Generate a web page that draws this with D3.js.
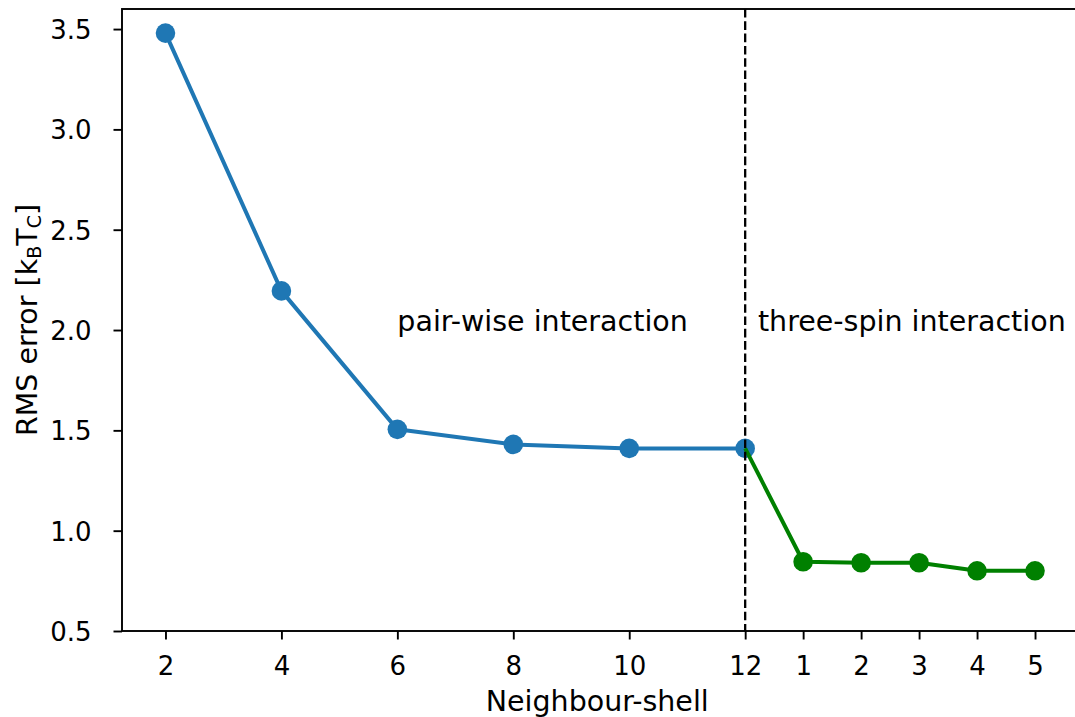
<!DOCTYPE html>
<html>
<head>
<meta charset="utf-8">
<script src="https://d3js.org/d3.v7.min.js"></script>
<style>
  body { margin: 0; background: #fff; }
  svg { display: block; font-family: "DejaVu Sans", sans-serif; }
</style>
</head>
<body>
<div id="chart"></div>
<script>
// pair-wise shells and RMS error
var pairShells = [2, 4, 6, 8, 10, 12];
var pairRms = [3.48, 2.195, 1.505, 1.43, 1.41, 1.41];
// three-spin shells (placed after shell 12 on the axis)
var spinShells = [1, 2, 3, 4, 5];
var spinRms = [0.845, 0.84, 0.84, 0.80, 0.80];
var yTicks = [0.5, 1.0, 1.5, 2.0, 2.5, 3.0, 3.5];

var width = 1075, height = 717;
var mLeft = 122, mTop = 9, mRight = 1078.5, mBottom = 631;

var svg = d3.select('#chart').append('svg')
    .attr('width', width)
    .attr('height', height);

var lastPair = pairShells[pairShells.length - 1];
var pairPts = pairShells.map((s, i) => ({x: s, y: pairRms[i]}));
var spinPts = spinShells.map((s, i) => ({x: lastPair + s, y: spinRms[i]}));

var x = d3.scaleLinear().domain([1.25, 17.75]).range([mLeft, mRight]);
var y = d3.scaleLinear().domain([0.5, 3.6]).range([mBottom, mTop]);

var xTickPos = pairPts.map(d => d.x).concat(spinPts.map(d => d.x));
var xTickLab = pairShells.concat(spinShells);

// axes
var xAxis = svg.append('g')
    .attr('transform', 'translate(0,' + mBottom + ')')
    .call(d3.axisBottom(x).tickValues(xTickPos)
        .tickFormat((d, i) => xTickLab[i]).tickSize(8.5).tickPadding(8));
var yAxis = svg.append('g')
    .attr('transform', 'translate(' + mLeft + ',0)')
    .call(d3.axisLeft(y).tickValues(yTicks)
        .tickFormat(d3.format('.1f')).tickSize(8.5).tickPadding(22));

[xAxis, yAxis].forEach(a => {
    a.attr('font-size', 26).attr('font-family', null);
    a.select('.domain').remove();
    a.selectAll('.tick line').attr('stroke', '#000').attr('stroke-width', 1.9);
    a.selectAll('.tick text').attr('fill', '#000');
});
xAxis.selectAll('.tick text').attr('dy', 0).attr('y', 44);
yAxis.selectAll('.tick text').attr('dy', '0.36em');

// frame
svg.append('rect')
    .attr('x', mLeft).attr('y', mTop)
    .attr('width', mRight - mLeft).attr('height', mBottom - mTop)
    .attr('fill', 'none').attr('stroke', '#000').attr('stroke-width', 1.9);

var line = d3.line().x(d => x(d.x)).y(d => y(d.y));

// pair-wise series
svg.append('path').datum(pairPts)
    .attr('d', line).attr('fill', 'none')
    .attr('stroke', '#1f77b4').attr('stroke-width', 4)
    .attr('stroke-linejoin', 'round');
svg.selectAll('.pdot').data(pairPts).enter().append('circle')
    .attr('class', 'pdot')
    .attr('cx', d => x(d.x)).attr('cy', d => y(d.y)).attr('r', 9.8)
    .attr('fill', '#1f77b4');

// three-spin series, starting at the last pair-wise point
svg.append('path').datum([pairPts[pairPts.length - 1]].concat(spinPts))
    .attr('d', line).attr('fill', 'none')
    .attr('stroke', '#008000').attr('stroke-width', 4)
    .attr('stroke-linejoin', 'round');
svg.selectAll('.sdot').data(spinPts).enter().append('circle')
    .attr('class', 'sdot')
    .attr('cx', d => x(d.x)).attr('cy', d => y(d.y)).attr('r', 9.8)
    .attr('fill', '#008000');

// divider
svg.append('line')
    .attr('x1', x(lastPair)).attr('x2', x(lastPair))
    .attr('y1', mTop).attr('y2', mBottom)
    .attr('stroke', '#000').attr('stroke-width', 2.3)
    .attr('stroke-dasharray', '8.6,3.7');

// annotations
svg.append('text').attr('x', x(6)).attr('y', y(2.0) + 1)
    .attr('font-size', 28.5).text('pair-wise interaction');
svg.append('text').attr('x', x(12.22)).attr('y', y(2.0) + 1)
    .attr('font-size', 28.5).text('three-spin interaction');

// axis labels
svg.append('text')
    .attr('x', (mLeft + mRight) / 2 - 3).attr('y', 711)
    .attr('text-anchor', 'middle').attr('font-size', 28.5)
    .text('Neighbour-shell');

var yl = svg.append('text')
    .attr('transform', 'translate(37,' + ((mTop + mBottom) / 2) + ')rotate(-90)')
    .attr('text-anchor', 'middle').attr('font-size', 28.5);
yl.append('tspan').text('RMS error [k');
yl.append('tspan').attr('font-size', 19).attr('dy', 4).text('B');
yl.append('tspan').attr('dy', -4).text('T');
yl.append('tspan').attr('font-size', 19).attr('dy', 4).text('C');
yl.append('tspan').attr('dy', -4).text(']');
</script>
</body>
</html>
